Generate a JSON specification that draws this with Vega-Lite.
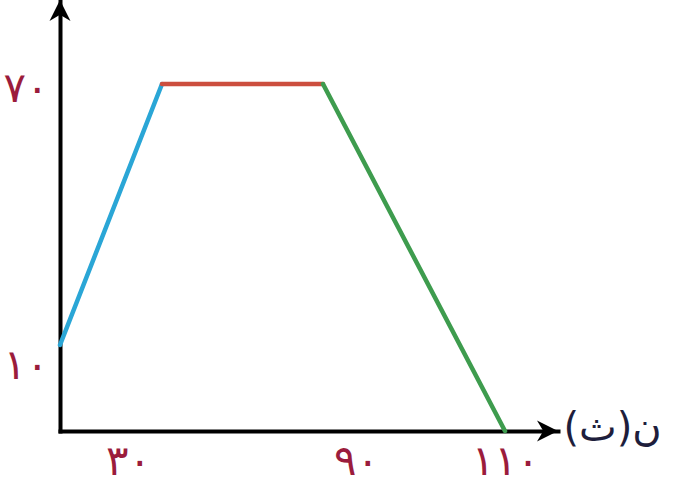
{
  "$schema": "https://vega.github.io/schema/vega-lite/v6.json",
  "width": 498,
  "height": 431,
  "autosize": "none",
  "padding": {"left": 60, "top": 0, "right": 128, "bottom": 55},
  "background": "white",
  "config": {"view": {"stroke": null}},
  "datasets": {
    "segments": [
      {"t1": 0, "v1": 10, "t2": 30, "v2": 70, "seg": "a"},
      {"t1": 30, "v1": 70, "t2": 90, "v2": 70, "seg": "b"},
      {"t1": 90, "v1": 70, "t2": 110, "v2": 0, "seg": "c"}
    ],
    "arrowX": [{"t": 126, "v": 0}],
    "arrowY": [{"t": 0, "v": 90}]
  },
  "layer": [
    {
      "data": {"name": "segments"},
      "mark": {"type": "rule", "strokeWidth": 4.5, "strokeCap": "round"},
      "encoding": {
        "x": {
          "field": "t1", "type": "quantitative",
          "scale": {"domain": [0, 30, 90, 110, 126], "range": [0, 102, 263, 445, 498], "nice": false, "zero": false},
          "axis": {
            "values": [30, 90, 110],
            "labelExpr": "datum.value == 30 ? '٣٠' : datum.value == 90 ? '٩٠' : '١١٠'",
            "labelFont": "DejaVu Sans", "labelFontSize": 42, "labelColor": "#9b1c3c",
            "labelPadding": 30, "labelBaseline": "middle",
            "labelOffset": {"condition": [{"test": "datum.value == 30", "value": -34}, {"test": "datum.value == 90", "value": 33}], "value": 0},
            "labelOverlap": false, "labelFlush": false,
            "ticks": false, "grid": false,
            "domainColor": "black", "domainWidth": 4, "domainCap": "square",
            "title": "\u200fن(ث)\u200f",
            "titleFont": "DejaVu Sans", "titleFontSize": 40, "titleFontWeight": "normal", "titleColor": "#1e1e3c",
            "titleAlign": "left", "titleBaseline": "middle", "titleX": 503, "titleY": -3, "titleAngle": 0
          }
        },
        "x2": {"field": "t2"},
        "y": {
          "field": "v1", "type": "quantitative",
          "scale": {"domain": [0, 10, 70, 90], "range": [431, 345, 84, 0], "nice": false, "zero": false},
          "axis": {
            "values": [10, 70],
            "labelExpr": "datum.value == 70 ? '٧٠' : '١٠'",
            "labelFont": "DejaVu Sans", "labelFontSize": 42, "labelColor": "#9b1c3c",
            "labelPadding": 12, "labelBaseline": "middle",
            "labelOffset": {"condition": [{"test": "datum.value == 10", "value": 20}], "value": 4},
            "labelOverlap": false, "labelFlush": false,
            "ticks": false, "grid": false,
            "domainColor": "black", "domainWidth": 4, "domainCap": "square",
            "title": null
          }
        },
        "y2": {"field": "v2"},
        "color": {
          "field": "seg", "type": "nominal",
          "scale": {"domain": ["a", "b", "c"], "range": ["#2aa6d6", "#cc4e3e", "#3e9c4e"]},
          "legend": null
        }
      }
    },
    {
      "data": {"name": "arrowX"},
      "mark": {"type": "point", "shape": "M0,0L-2,-1L-1.4,0L-2,1Z", "filled": true, "color": "black", "opacity": 1, "size": 441},
      "encoding": {
        "x": {"field": "t", "type": "quantitative"},
        "y": {"field": "v", "type": "quantitative"}
      }
    },
    {
      "data": {"name": "arrowY"},
      "mark": {"type": "point", "shape": "M0,0L-1,2L0,1.4L1,2Z", "filled": true, "color": "black", "opacity": 1, "size": 441},
      "encoding": {
        "x": {"field": "t", "type": "quantitative"},
        "y": {"field": "v", "type": "quantitative"}
      }
    }
  ]
}
